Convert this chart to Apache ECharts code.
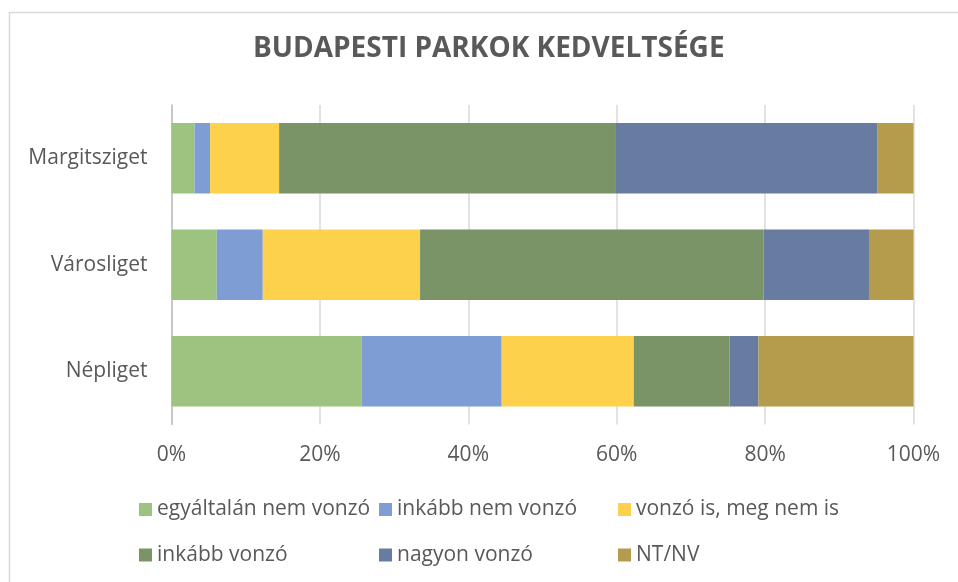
<!DOCTYPE html>
<html>
<head>
<meta charset="utf-8">
<script src="https://cdn.jsdelivr.net/npm/echarts@6/dist/echarts.min.js"></script>
<style>
  html, body { margin: 0; padding: 0; background: #fff; }
  #chart { width: 958px; height: 582px; }
</style>
</head>
<body>
<div id="chart"></div>
<script>
// Budapest parks — 100% stacked horizontal bars

const parks = ['Népliget', 'Városliget', 'Margitsziget'];

const seriesNames = [
  'egyáltalán nem vonzó',
  'inkább nem vonzó',
  'vonzó is, meg nem is',
  'inkább vonzó',
  'nagyon vonzó',
  'NT/NV',
];

// shares in %, same order as parks
const notAtAll   = [25.6, 6.1, 3.1];
const ratherNot  = [18.9, 6.2, 2.1];
const neutral    = [17.8, 21.2, 9.3];
const rather     = [12.9, 46.3, 45.4];
const very       = [3.9, 14.2, 35.2];
const noAnswer   = [20.9, 6.0, 4.9];

const seriesData = [notAtAll, ratherNot, neutral, rather, very, noAnswer];

const xTicks = [0, 20, 40, 60, 80, 100];

const colors = ['#9cc37f', '#7e9dd4', '#fed14c', '#7a9467', '#687ba1', '#b59b4c'];

const FONT = '"Open Sans", sans-serif';
const GREY = '#595959';

const chart = echarts.init(document.getElementById('chart'), null, { renderer: 'canvas' });

// legend laid out in fixed columns, like the Excel original
const legendCols = [139, 379, 618];
const legendRows = [499, 544.5];
const legends = seriesNames.map((name, i) => ({
  data: [name],
  left: legendCols[i % 3],
  top: legendRows[Math.floor(i / 3)],
  orient: 'horizontal',
  padding: 0,
  icon: 'rect',
  itemWidth: 13,
  itemHeight: 13,
  itemGap: 0,
  selectedMode: false,
  textStyle: { fontFamily: FONT, fontSize: 21, color: GREY },
}));

chart.setOption({
  animation: false,
  color: colors,
  title: {
    text: 'BUDAPESTI PARKOK KEDVELTSÉGE',
    left: 253,
    top: 35,
    padding: 0,
    textStyle: {
      fontFamily: FONT,
      fontSize: 28,
      fontWeight: 'bold',
      color: GREY,
    },
  },
  graphic: [{
    type: 'rect',
    silent: true,
    shape: { x: 9.5, y: 12.5, width: 1200, height: 1200 },
    style: { fill: 'none', stroke: '#d9d9d9', lineWidth: 1.5 },
  }],
  legend: legends,
  grid: { left: 171.5, right: 44.5, top: 105, bottom: 157.5 },
  xAxis: {
    type: 'value',
    min: 0,
    max: 100,
    interval: 20,
    axisLine: { show: false },
    axisTick: { show: false },
    splitLine: { lineStyle: { color: '#d9d9d9', width: 1.5 } },
    axisLabel: {
      formatter: v => (xTicks.includes(v) ? v + '%' : ''),
      fontFamily: FONT,
      fontSize: 21,
      color: GREY,
      margin: 20,
    },
  },
  yAxis: {
    type: 'category',
    data: parks,
    axisLine: { lineStyle: { color: '#bfbfbf', width: 1.5 } },
    axisTick: { show: false },
    axisLabel: { fontFamily: FONT, fontSize: 21, color: GREY, margin: 24 },
  },
  series: seriesNames.map((name, i) => ({
    name,
    type: 'bar',
    stack: 'total',
    barCategoryGap: '33.6%',
    data: seriesData[i],
    itemStyle: { color: colors[i] },
  })),
});
</script>
</body>
</html>
